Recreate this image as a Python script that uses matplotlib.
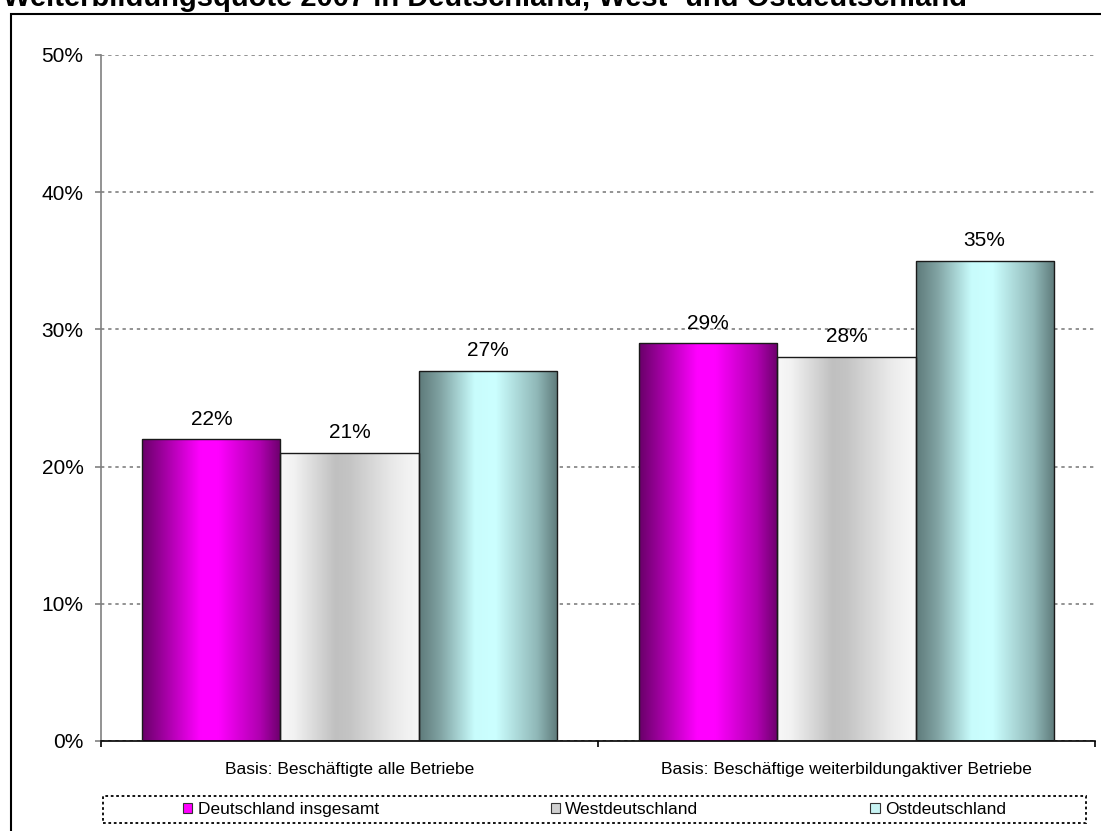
import numpy as np
import matplotlib
matplotlib.use('Agg')
import matplotlib.pyplot as plt
from matplotlib.colors import LinearSegmentedColormap
from matplotlib.patches import Patch, Rectangle

plt.rcParams['font.family'] = ['Liberation Sans', 'DejaVu Sans']

# Data
categories = ['Basis: Beschäftigte alle Betriebe',
              'Basis: Beschäftige weiterbildungaktiver Betriebe']
series = ['Deutschland insgesamt', 'Westdeutschland', 'Ostdeutschland']
deutschland = [22, 29]
west = [21, 28]
ost = [27, 35]
title = 'Weiterbildungsquote 2007 in Deutschland, West- und Ostdeutschland'

# horizontal gradient fills (Excel style)
cmaps = [
    LinearSegmentedColormap.from_list('mag', [
        (0.0, '#690069'), (0.15, '#9e009e'), (0.42, '#ff00ff'),
        (0.55, '#ff00ff'), (0.85, '#b000b0'), (1.0, '#6c006c')]),
    LinearSegmentedColormap.from_list('gry', [
        (0.0, '#f8f8f8'), (0.1, '#f2f2f2'), (0.4, '#c0c0c0'),
        (0.5, '#c4c4c4'), (0.82, '#eaeaea'), (1.0, '#f8f8f8')]),
    LinearSegmentedColormap.from_list('cya', [
        (0.0, '#5e7a7a'), (0.15, '#80a2a2'), (0.4, '#c8fcfc'),
        (0.55, '#ccffff'), (0.85, '#90b8b8'), (1.0, '#5e7a7a')]),
]
legend_colors = ['#ff00ff', '#d0d0d0', '#c8f4f4']

W, H = 1101, 831
fig = plt.figure(figsize=(W / 100, H / 100), dpi=100)
ax = fig.add_axes([101 / W, 1 - 741 / H, (1095 - 101) / W, (741 - 55) / H])

x = np.arange(len(categories))
width = 0.278
grad = np.linspace(0, 1, 256).reshape(1, -1)

for i, vals in enumerate([deutschland, west, ost]):
    bars = ax.bar(x + (i - 1) * width, vals, width, facecolor='none',
                  edgecolor='#1a1a1a', linewidth=1, zorder=3)
    for b in bars:
        x0, w, h = b.get_x(), b.get_width(), b.get_height()
        im = ax.imshow(grad, cmap=cmaps[i], extent=(x0, x0 + w, 0, h),
                       aspect='auto', interpolation='bicubic', zorder=2)
        im.set_clip_path(b)
        ax.annotate(f'{h:.0f}%', (x0 + w / 2, h), xytext=(0, 10.5),
                    textcoords='offset points', ha='center', va='baseline',
                    fontsize=15)

ax.set_xlim(-0.5, 1.5)
ax.set_ylim(0, 50)
ax.set_yticks(np.arange(0, 51, 10))
ax.set_yticklabels([f'{v}%' for v in range(0, 51, 10)], fontsize=15)
ax.yaxis.grid(True, linestyle=(0, (2, 2.3)), color='#808080', linewidth=1.2)
ax.set_axisbelow(True)

ax.set_xticks(x)
ax.set_xticklabels(categories, fontsize=12.5)
ax.tick_params(axis='x', which='major', length=0, pad=15)
ax.set_xticks([-0.5, 0.5, 1.5], minor=True)
ax.tick_params(axis='x', which='minor', length=4.5, width=1.2, color='black')
ax.tick_params(axis='y', length=4.5, width=1.2, color='#808080', pad=8)

for s in ['top', 'right']:
    ax.spines[s].set_visible(False)
ax.spines['left'].set_color('#808080')
ax.spines['left'].set_linewidth(1.2)
ax.spines['bottom'].set_color('black')
ax.spines['bottom'].set_linewidth(1.2)

# legend with dotted frame
handles = [Patch(facecolor=c, edgecolor='#333333', linewidth=0.8)
           for c in legend_colors]
fig.legend(handles, series, ncol=3, frameon=False, fontsize=12.5,
           loc='center', bbox_to_anchor=((103 + 1086) / 2 / W, 1 - 809.5 / H),
           handlelength=0.55, handleheight=0.55, handletextpad=0.3,
           columnspacing=9.9, borderpad=0, borderaxespad=0)
fig.patches.append(Rectangle((103 / W, 1 - 823 / H), (1086 - 103) / W, 27 / H,
                             transform=fig.transFigure, fill=False,
                             edgecolor='black', linewidth=1.3,
                             linestyle=(0, (1.5, 1.5))))

# outer chart frame
fig.patches.append(Rectangle((11 / W, -0.1), 1.2, 1 - 14 / H + 0.1,
                             transform=fig.transFigure, fill=False,
                             edgecolor='black', linewidth=1.5))

# title sits partly above the image edge, as in the original
fig.text(3 / W, 1 - 6 / H, title, fontsize=21, fontweight='bold',
         va='baseline', ha='left')

fig.savefig('out.png', dpi=100)
